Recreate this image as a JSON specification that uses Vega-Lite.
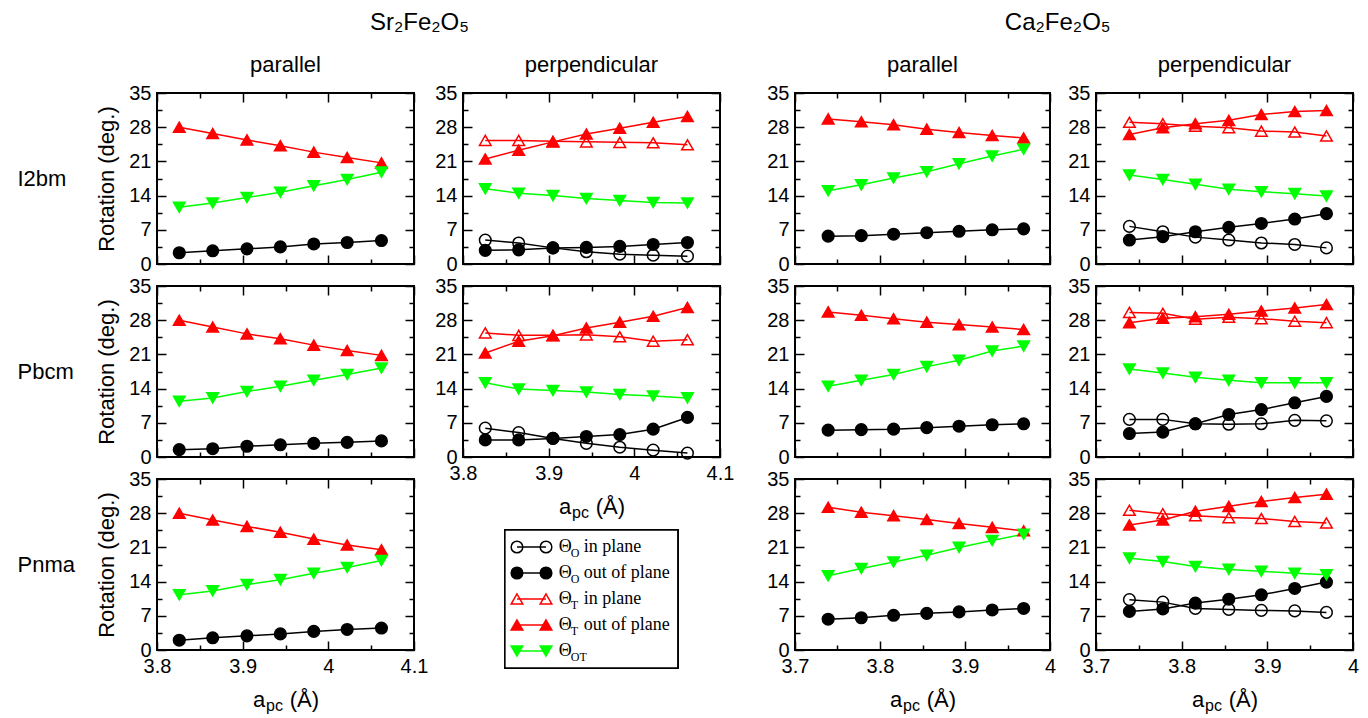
{
"$schema": "https://vega.github.io/schema/vega-lite/v6.json",
"background": "white",
"padding": {"left": 16, "top": 11, "right": 5, "bottom": 5},
"config": {
 "font": "Liberation Sans",
 "view": {"stroke": "black", "strokeWidth": 2},
 "axis": {"domain": false, "grid": false, "tickColor": "black", "tickWidth": 1.5, "tickSize": -9, "labelPadding": 15, "labelFont": "Liberation Sans", "labelFontSize": 20, "labelColor": "black", "titleFont": "Liberation Sans", "titleFontSize": 22, "titleFontWeight": "normal", "titleColor": "black", "labelFlush": false, "labelOverlap": false},
 "title": {"font": "Liberation Sans", "fontWeight": "normal", "color": "black", "fontSize": 22}
},
"datasets": {
"leg": [
 {"ser": "O_in", "sub": "O", "txt": "in plane"},
 {"ser": "O_out", "sub": "O", "txt": "out of plane"},
 {"ser": "T_in", "sub": "T", "txt": "in plane"},
 {"ser": "T_out", "sub": "T", "txt": "out of plane"},
 {"ser": "OT", "sub": "OT", "txt": ""}
],
"d": [
{"cmp":"Sr","dir":"par","str":"I2bm","ser":"T_out","a":3.826,"rot":28.0},
{"cmp":"Sr","dir":"par","str":"I2bm","ser":"T_out","a":3.865,"rot":26.7},
{"cmp":"Sr","dir":"par","str":"I2bm","ser":"T_out","a":3.905,"rot":25.4},
{"cmp":"Sr","dir":"par","str":"I2bm","ser":"T_out","a":3.944,"rot":24.2},
{"cmp":"Sr","dir":"par","str":"I2bm","ser":"T_out","a":3.983,"rot":22.9},
{"cmp":"Sr","dir":"par","str":"I2bm","ser":"T_out","a":4.022,"rot":21.8},
{"cmp":"Sr","dir":"par","str":"I2bm","ser":"T_out","a":4.062,"rot":20.7},
{"cmp":"Sr","dir":"par","str":"I2bm","ser":"OT","a":3.826,"rot":11.6},
{"cmp":"Sr","dir":"par","str":"I2bm","ser":"OT","a":3.865,"rot":12.5},
{"cmp":"Sr","dir":"par","str":"I2bm","ser":"OT","a":3.905,"rot":13.6},
{"cmp":"Sr","dir":"par","str":"I2bm","ser":"OT","a":3.944,"rot":14.7},
{"cmp":"Sr","dir":"par","str":"I2bm","ser":"OT","a":3.983,"rot":16.0},
{"cmp":"Sr","dir":"par","str":"I2bm","ser":"OT","a":4.022,"rot":17.3},
{"cmp":"Sr","dir":"par","str":"I2bm","ser":"OT","a":4.062,"rot":18.8},
{"cmp":"Sr","dir":"par","str":"I2bm","ser":"O_out","a":3.826,"rot":2.3},
{"cmp":"Sr","dir":"par","str":"I2bm","ser":"O_out","a":3.865,"rot":2.7},
{"cmp":"Sr","dir":"par","str":"I2bm","ser":"O_out","a":3.905,"rot":3.1},
{"cmp":"Sr","dir":"par","str":"I2bm","ser":"O_out","a":3.944,"rot":3.5},
{"cmp":"Sr","dir":"par","str":"I2bm","ser":"O_out","a":3.983,"rot":4.1},
{"cmp":"Sr","dir":"par","str":"I2bm","ser":"O_out","a":4.022,"rot":4.4},
{"cmp":"Sr","dir":"par","str":"I2bm","ser":"O_out","a":4.062,"rot":4.8},
{"cmp":"Sr","dir":"par","str":"Pbcm","ser":"T_out","a":3.826,"rot":28.0},
{"cmp":"Sr","dir":"par","str":"Pbcm","ser":"T_out","a":3.865,"rot":26.6},
{"cmp":"Sr","dir":"par","str":"Pbcm","ser":"T_out","a":3.905,"rot":25.2},
{"cmp":"Sr","dir":"par","str":"Pbcm","ser":"T_out","a":3.944,"rot":24.2},
{"cmp":"Sr","dir":"par","str":"Pbcm","ser":"T_out","a":3.983,"rot":22.9},
{"cmp":"Sr","dir":"par","str":"Pbcm","ser":"T_out","a":4.022,"rot":21.8},
{"cmp":"Sr","dir":"par","str":"Pbcm","ser":"T_out","a":4.062,"rot":20.8},
{"cmp":"Sr","dir":"par","str":"Pbcm","ser":"OT","a":3.826,"rot":11.4},
{"cmp":"Sr","dir":"par","str":"Pbcm","ser":"OT","a":3.865,"rot":12.1},
{"cmp":"Sr","dir":"par","str":"Pbcm","ser":"OT","a":3.905,"rot":13.4},
{"cmp":"Sr","dir":"par","str":"Pbcm","ser":"OT","a":3.944,"rot":14.5},
{"cmp":"Sr","dir":"par","str":"Pbcm","ser":"OT","a":3.983,"rot":15.7},
{"cmp":"Sr","dir":"par","str":"Pbcm","ser":"OT","a":4.022,"rot":16.9},
{"cmp":"Sr","dir":"par","str":"Pbcm","ser":"OT","a":4.062,"rot":18.2},
{"cmp":"Sr","dir":"par","str":"Pbcm","ser":"O_out","a":3.826,"rot":1.5},
{"cmp":"Sr","dir":"par","str":"Pbcm","ser":"O_out","a":3.865,"rot":1.7},
{"cmp":"Sr","dir":"par","str":"Pbcm","ser":"O_out","a":3.905,"rot":2.2},
{"cmp":"Sr","dir":"par","str":"Pbcm","ser":"O_out","a":3.944,"rot":2.5},
{"cmp":"Sr","dir":"par","str":"Pbcm","ser":"O_out","a":3.983,"rot":2.8},
{"cmp":"Sr","dir":"par","str":"Pbcm","ser":"O_out","a":4.022,"rot":3.0},
{"cmp":"Sr","dir":"par","str":"Pbcm","ser":"O_out","a":4.062,"rot":3.3},
{"cmp":"Sr","dir":"par","str":"Pnma","ser":"T_out","a":3.826,"rot":28.0},
{"cmp":"Sr","dir":"par","str":"Pnma","ser":"T_out","a":3.865,"rot":26.6},
{"cmp":"Sr","dir":"par","str":"Pnma","ser":"T_out","a":3.905,"rot":25.3},
{"cmp":"Sr","dir":"par","str":"Pnma","ser":"T_out","a":3.944,"rot":24.1},
{"cmp":"Sr","dir":"par","str":"Pnma","ser":"T_out","a":3.983,"rot":22.7},
{"cmp":"Sr","dir":"par","str":"Pnma","ser":"T_out","a":4.022,"rot":21.5},
{"cmp":"Sr","dir":"par","str":"Pnma","ser":"T_out","a":4.062,"rot":20.5},
{"cmp":"Sr","dir":"par","str":"Pnma","ser":"OT","a":3.826,"rot":11.3},
{"cmp":"Sr","dir":"par","str":"Pnma","ser":"OT","a":3.865,"rot":12.1},
{"cmp":"Sr","dir":"par","str":"Pnma","ser":"OT","a":3.905,"rot":13.4},
{"cmp":"Sr","dir":"par","str":"Pnma","ser":"OT","a":3.944,"rot":14.4},
{"cmp":"Sr","dir":"par","str":"Pnma","ser":"OT","a":3.983,"rot":15.7},
{"cmp":"Sr","dir":"par","str":"Pnma","ser":"OT","a":4.022,"rot":16.9},
{"cmp":"Sr","dir":"par","str":"Pnma","ser":"OT","a":4.062,"rot":18.3},
{"cmp":"Sr","dir":"par","str":"Pnma","ser":"O_out","a":3.826,"rot":2.0},
{"cmp":"Sr","dir":"par","str":"Pnma","ser":"O_out","a":3.865,"rot":2.5},
{"cmp":"Sr","dir":"par","str":"Pnma","ser":"O_out","a":3.905,"rot":2.9},
{"cmp":"Sr","dir":"par","str":"Pnma","ser":"O_out","a":3.944,"rot":3.3},
{"cmp":"Sr","dir":"par","str":"Pnma","ser":"O_out","a":3.983,"rot":3.8},
{"cmp":"Sr","dir":"par","str":"Pnma","ser":"O_out","a":4.022,"rot":4.2},
{"cmp":"Sr","dir":"par","str":"Pnma","ser":"O_out","a":4.062,"rot":4.5},
{"cmp":"Sr","dir":"perp","str":"I2bm","ser":"O_in","a":3.826,"rot":4.9},
{"cmp":"Sr","dir":"perp","str":"I2bm","ser":"O_in","a":3.865,"rot":4.3},
{"cmp":"Sr","dir":"perp","str":"I2bm","ser":"O_in","a":3.905,"rot":3.3},
{"cmp":"Sr","dir":"perp","str":"I2bm","ser":"O_in","a":3.944,"rot":2.5},
{"cmp":"Sr","dir":"perp","str":"I2bm","ser":"O_in","a":3.983,"rot":2.0},
{"cmp":"Sr","dir":"perp","str":"I2bm","ser":"O_in","a":4.022,"rot":1.8},
{"cmp":"Sr","dir":"perp","str":"I2bm","ser":"O_in","a":4.062,"rot":1.6},
{"cmp":"Sr","dir":"perp","str":"I2bm","ser":"O_out","a":3.826,"rot":2.8},
{"cmp":"Sr","dir":"perp","str":"I2bm","ser":"O_out","a":3.865,"rot":2.9},
{"cmp":"Sr","dir":"perp","str":"I2bm","ser":"O_out","a":3.905,"rot":3.3},
{"cmp":"Sr","dir":"perp","str":"I2bm","ser":"O_out","a":3.944,"rot":3.4},
{"cmp":"Sr","dir":"perp","str":"I2bm","ser":"O_out","a":3.983,"rot":3.6},
{"cmp":"Sr","dir":"perp","str":"I2bm","ser":"O_out","a":4.022,"rot":4.0},
{"cmp":"Sr","dir":"perp","str":"I2bm","ser":"O_out","a":4.062,"rot":4.4},
{"cmp":"Sr","dir":"perp","str":"I2bm","ser":"T_in","a":3.826,"rot":25.3},
{"cmp":"Sr","dir":"perp","str":"I2bm","ser":"T_in","a":3.865,"rot":25.3},
{"cmp":"Sr","dir":"perp","str":"I2bm","ser":"T_in","a":3.905,"rot":25.1},
{"cmp":"Sr","dir":"perp","str":"I2bm","ser":"T_in","a":3.944,"rot":25.0},
{"cmp":"Sr","dir":"perp","str":"I2bm","ser":"T_in","a":3.983,"rot":24.9},
{"cmp":"Sr","dir":"perp","str":"I2bm","ser":"T_in","a":4.022,"rot":24.8},
{"cmp":"Sr","dir":"perp","str":"I2bm","ser":"T_in","a":4.062,"rot":24.4},
{"cmp":"Sr","dir":"perp","str":"I2bm","ser":"T_out","a":3.826,"rot":21.5},
{"cmp":"Sr","dir":"perp","str":"I2bm","ser":"T_out","a":3.865,"rot":23.3},
{"cmp":"Sr","dir":"perp","str":"I2bm","ser":"T_out","a":3.905,"rot":25.0},
{"cmp":"Sr","dir":"perp","str":"I2bm","ser":"T_out","a":3.944,"rot":26.6},
{"cmp":"Sr","dir":"perp","str":"I2bm","ser":"T_out","a":3.983,"rot":27.8},
{"cmp":"Sr","dir":"perp","str":"I2bm","ser":"T_out","a":4.022,"rot":29.0},
{"cmp":"Sr","dir":"perp","str":"I2bm","ser":"T_out","a":4.062,"rot":30.2},
{"cmp":"Sr","dir":"perp","str":"I2bm","ser":"OT","a":3.826,"rot":15.4},
{"cmp":"Sr","dir":"perp","str":"I2bm","ser":"OT","a":3.865,"rot":14.5},
{"cmp":"Sr","dir":"perp","str":"I2bm","ser":"OT","a":3.905,"rot":14.0},
{"cmp":"Sr","dir":"perp","str":"I2bm","ser":"OT","a":3.944,"rot":13.4},
{"cmp":"Sr","dir":"perp","str":"I2bm","ser":"OT","a":3.983,"rot":13.0},
{"cmp":"Sr","dir":"perp","str":"I2bm","ser":"OT","a":4.022,"rot":12.6},
{"cmp":"Sr","dir":"perp","str":"I2bm","ser":"OT","a":4.062,"rot":12.5},
{"cmp":"Sr","dir":"perp","str":"Pbcm","ser":"O_in","a":3.826,"rot":5.9},
{"cmp":"Sr","dir":"perp","str":"Pbcm","ser":"O_in","a":3.865,"rot":5.0},
{"cmp":"Sr","dir":"perp","str":"Pbcm","ser":"O_in","a":3.905,"rot":3.8},
{"cmp":"Sr","dir":"perp","str":"Pbcm","ser":"O_in","a":3.944,"rot":2.8},
{"cmp":"Sr","dir":"perp","str":"Pbcm","ser":"O_in","a":3.983,"rot":2.0},
{"cmp":"Sr","dir":"perp","str":"Pbcm","ser":"O_in","a":4.022,"rot":1.4},
{"cmp":"Sr","dir":"perp","str":"Pbcm","ser":"O_in","a":4.062,"rot":0.8},
{"cmp":"Sr","dir":"perp","str":"Pbcm","ser":"O_out","a":3.826,"rot":3.5},
{"cmp":"Sr","dir":"perp","str":"Pbcm","ser":"O_out","a":3.865,"rot":3.5},
{"cmp":"Sr","dir":"perp","str":"Pbcm","ser":"O_out","a":3.905,"rot":3.8},
{"cmp":"Sr","dir":"perp","str":"Pbcm","ser":"O_out","a":3.944,"rot":4.2},
{"cmp":"Sr","dir":"perp","str":"Pbcm","ser":"O_out","a":3.983,"rot":4.6},
{"cmp":"Sr","dir":"perp","str":"Pbcm","ser":"O_out","a":4.022,"rot":5.7},
{"cmp":"Sr","dir":"perp","str":"Pbcm","ser":"O_out","a":4.062,"rot":8.1},
{"cmp":"Sr","dir":"perp","str":"Pbcm","ser":"T_in","a":3.826,"rot":25.4},
{"cmp":"Sr","dir":"perp","str":"Pbcm","ser":"T_in","a":3.865,"rot":24.9},
{"cmp":"Sr","dir":"perp","str":"Pbcm","ser":"T_in","a":3.905,"rot":24.9},
{"cmp":"Sr","dir":"perp","str":"Pbcm","ser":"T_in","a":3.944,"rot":25.0},
{"cmp":"Sr","dir":"perp","str":"Pbcm","ser":"T_in","a":3.983,"rot":24.6},
{"cmp":"Sr","dir":"perp","str":"Pbcm","ser":"T_in","a":4.022,"rot":23.7},
{"cmp":"Sr","dir":"perp","str":"Pbcm","ser":"T_in","a":4.062,"rot":24.0},
{"cmp":"Sr","dir":"perp","str":"Pbcm","ser":"T_out","a":3.826,"rot":21.3},
{"cmp":"Sr","dir":"perp","str":"Pbcm","ser":"T_out","a":3.865,"rot":23.7},
{"cmp":"Sr","dir":"perp","str":"Pbcm","ser":"T_out","a":3.905,"rot":24.8},
{"cmp":"Sr","dir":"perp","str":"Pbcm","ser":"T_out","a":3.944,"rot":26.4},
{"cmp":"Sr","dir":"perp","str":"Pbcm","ser":"T_out","a":3.983,"rot":27.6},
{"cmp":"Sr","dir":"perp","str":"Pbcm","ser":"T_out","a":4.022,"rot":28.8},
{"cmp":"Sr","dir":"perp","str":"Pbcm","ser":"T_out","a":4.062,"rot":30.6},
{"cmp":"Sr","dir":"perp","str":"Pbcm","ser":"OT","a":3.826,"rot":15.2},
{"cmp":"Sr","dir":"perp","str":"Pbcm","ser":"OT","a":3.865,"rot":13.9},
{"cmp":"Sr","dir":"perp","str":"Pbcm","ser":"OT","a":3.905,"rot":13.6},
{"cmp":"Sr","dir":"perp","str":"Pbcm","ser":"OT","a":3.944,"rot":13.3},
{"cmp":"Sr","dir":"perp","str":"Pbcm","ser":"OT","a":3.983,"rot":12.8},
{"cmp":"Sr","dir":"perp","str":"Pbcm","ser":"OT","a":4.022,"rot":12.5},
{"cmp":"Sr","dir":"perp","str":"Pbcm","ser":"OT","a":4.062,"rot":12.1},
{"cmp":"Ca","dir":"par","str":"I2bm","ser":"T_out","a":3.739,"rot":29.7},
{"cmp":"Ca","dir":"par","str":"I2bm","ser":"T_out","a":3.778,"rot":29.1},
{"cmp":"Ca","dir":"par","str":"I2bm","ser":"T_out","a":3.816,"rot":28.5},
{"cmp":"Ca","dir":"par","str":"I2bm","ser":"T_out","a":3.855,"rot":27.6},
{"cmp":"Ca","dir":"par","str":"I2bm","ser":"T_out","a":3.893,"rot":26.9},
{"cmp":"Ca","dir":"par","str":"I2bm","ser":"T_out","a":3.932,"rot":26.3},
{"cmp":"Ca","dir":"par","str":"I2bm","ser":"T_out","a":3.969,"rot":25.8},
{"cmp":"Ca","dir":"par","str":"I2bm","ser":"OT","a":3.739,"rot":15.0},
{"cmp":"Ca","dir":"par","str":"I2bm","ser":"OT","a":3.778,"rot":16.2},
{"cmp":"Ca","dir":"par","str":"I2bm","ser":"OT","a":3.816,"rot":17.6},
{"cmp":"Ca","dir":"par","str":"I2bm","ser":"OT","a":3.855,"rot":18.9},
{"cmp":"Ca","dir":"par","str":"I2bm","ser":"OT","a":3.893,"rot":20.5},
{"cmp":"Ca","dir":"par","str":"I2bm","ser":"OT","a":3.932,"rot":22.1},
{"cmp":"Ca","dir":"par","str":"I2bm","ser":"OT","a":3.969,"rot":23.5},
{"cmp":"Ca","dir":"par","str":"I2bm","ser":"O_out","a":3.739,"rot":5.7},
{"cmp":"Ca","dir":"par","str":"I2bm","ser":"O_out","a":3.778,"rot":5.8},
{"cmp":"Ca","dir":"par","str":"I2bm","ser":"O_out","a":3.816,"rot":6.1},
{"cmp":"Ca","dir":"par","str":"I2bm","ser":"O_out","a":3.855,"rot":6.4},
{"cmp":"Ca","dir":"par","str":"I2bm","ser":"O_out","a":3.893,"rot":6.7},
{"cmp":"Ca","dir":"par","str":"I2bm","ser":"O_out","a":3.932,"rot":7.0},
{"cmp":"Ca","dir":"par","str":"I2bm","ser":"O_out","a":3.969,"rot":7.2},
{"cmp":"Ca","dir":"par","str":"Pbcm","ser":"T_out","a":3.739,"rot":29.7},
{"cmp":"Ca","dir":"par","str":"Pbcm","ser":"T_out","a":3.778,"rot":29.0},
{"cmp":"Ca","dir":"par","str":"Pbcm","ser":"T_out","a":3.816,"rot":28.3},
{"cmp":"Ca","dir":"par","str":"Pbcm","ser":"T_out","a":3.855,"rot":27.6},
{"cmp":"Ca","dir":"par","str":"Pbcm","ser":"T_out","a":3.893,"rot":27.1},
{"cmp":"Ca","dir":"par","str":"Pbcm","ser":"T_out","a":3.932,"rot":26.6},
{"cmp":"Ca","dir":"par","str":"Pbcm","ser":"T_out","a":3.969,"rot":26.1},
{"cmp":"Ca","dir":"par","str":"Pbcm","ser":"OT","a":3.739,"rot":14.5},
{"cmp":"Ca","dir":"par","str":"Pbcm","ser":"OT","a":3.778,"rot":15.7},
{"cmp":"Ca","dir":"par","str":"Pbcm","ser":"OT","a":3.816,"rot":16.9},
{"cmp":"Ca","dir":"par","str":"Pbcm","ser":"OT","a":3.855,"rot":18.5},
{"cmp":"Ca","dir":"par","str":"Pbcm","ser":"OT","a":3.893,"rot":19.8},
{"cmp":"Ca","dir":"par","str":"Pbcm","ser":"OT","a":3.932,"rot":21.7},
{"cmp":"Ca","dir":"par","str":"Pbcm","ser":"OT","a":3.969,"rot":22.7},
{"cmp":"Ca","dir":"par","str":"Pbcm","ser":"O_out","a":3.739,"rot":5.5},
{"cmp":"Ca","dir":"par","str":"Pbcm","ser":"O_out","a":3.778,"rot":5.6},
{"cmp":"Ca","dir":"par","str":"Pbcm","ser":"O_out","a":3.816,"rot":5.7},
{"cmp":"Ca","dir":"par","str":"Pbcm","ser":"O_out","a":3.855,"rot":6.0},
{"cmp":"Ca","dir":"par","str":"Pbcm","ser":"O_out","a":3.893,"rot":6.3},
{"cmp":"Ca","dir":"par","str":"Pbcm","ser":"O_out","a":3.932,"rot":6.6},
{"cmp":"Ca","dir":"par","str":"Pbcm","ser":"O_out","a":3.969,"rot":6.8},
{"cmp":"Ca","dir":"par","str":"Pnma","ser":"T_out","a":3.739,"rot":29.2},
{"cmp":"Ca","dir":"par","str":"Pnma","ser":"T_out","a":3.778,"rot":28.2},
{"cmp":"Ca","dir":"par","str":"Pnma","ser":"T_out","a":3.816,"rot":27.5},
{"cmp":"Ca","dir":"par","str":"Pnma","ser":"T_out","a":3.855,"rot":26.7},
{"cmp":"Ca","dir":"par","str":"Pnma","ser":"T_out","a":3.893,"rot":25.9},
{"cmp":"Ca","dir":"par","str":"Pnma","ser":"T_out","a":3.932,"rot":25.1},
{"cmp":"Ca","dir":"par","str":"Pnma","ser":"T_out","a":3.969,"rot":24.4},
{"cmp":"Ca","dir":"par","str":"Pnma","ser":"OT","a":3.739,"rot":15.2},
{"cmp":"Ca","dir":"par","str":"Pnma","ser":"OT","a":3.778,"rot":16.7},
{"cmp":"Ca","dir":"par","str":"Pnma","ser":"OT","a":3.816,"rot":18.0},
{"cmp":"Ca","dir":"par","str":"Pnma","ser":"OT","a":3.855,"rot":19.4},
{"cmp":"Ca","dir":"par","str":"Pnma","ser":"OT","a":3.893,"rot":21.0},
{"cmp":"Ca","dir":"par","str":"Pnma","ser":"OT","a":3.932,"rot":22.4},
{"cmp":"Ca","dir":"par","str":"Pnma","ser":"OT","a":3.969,"rot":23.7},
{"cmp":"Ca","dir":"par","str":"Pnma","ser":"O_out","a":3.739,"rot":6.3},
{"cmp":"Ca","dir":"par","str":"Pnma","ser":"O_out","a":3.778,"rot":6.6},
{"cmp":"Ca","dir":"par","str":"Pnma","ser":"O_out","a":3.816,"rot":7.1},
{"cmp":"Ca","dir":"par","str":"Pnma","ser":"O_out","a":3.855,"rot":7.5},
{"cmp":"Ca","dir":"par","str":"Pnma","ser":"O_out","a":3.893,"rot":7.8},
{"cmp":"Ca","dir":"par","str":"Pnma","ser":"O_out","a":3.932,"rot":8.2},
{"cmp":"Ca","dir":"par","str":"Pnma","ser":"O_out","a":3.969,"rot":8.5},
{"cmp":"Ca","dir":"perp","str":"I2bm","ser":"O_in","a":3.739,"rot":7.7},
{"cmp":"Ca","dir":"perp","str":"I2bm","ser":"O_in","a":3.778,"rot":6.6},
{"cmp":"Ca","dir":"perp","str":"I2bm","ser":"O_in","a":3.816,"rot":5.5},
{"cmp":"Ca","dir":"perp","str":"I2bm","ser":"O_in","a":3.855,"rot":4.9},
{"cmp":"Ca","dir":"perp","str":"I2bm","ser":"O_in","a":3.893,"rot":4.3},
{"cmp":"Ca","dir":"perp","str":"I2bm","ser":"O_in","a":3.932,"rot":4.0},
{"cmp":"Ca","dir":"perp","str":"I2bm","ser":"O_in","a":3.969,"rot":3.3},
{"cmp":"Ca","dir":"perp","str":"I2bm","ser":"O_out","a":3.739,"rot":4.9},
{"cmp":"Ca","dir":"perp","str":"I2bm","ser":"O_out","a":3.778,"rot":5.6},
{"cmp":"Ca","dir":"perp","str":"I2bm","ser":"O_out","a":3.816,"rot":6.6},
{"cmp":"Ca","dir":"perp","str":"I2bm","ser":"O_out","a":3.855,"rot":7.5},
{"cmp":"Ca","dir":"perp","str":"I2bm","ser":"O_out","a":3.893,"rot":8.3},
{"cmp":"Ca","dir":"perp","str":"I2bm","ser":"O_out","a":3.932,"rot":9.2},
{"cmp":"Ca","dir":"perp","str":"I2bm","ser":"O_out","a":3.969,"rot":10.3},
{"cmp":"Ca","dir":"perp","str":"I2bm","ser":"T_in","a":3.739,"rot":29.0},
{"cmp":"Ca","dir":"perp","str":"I2bm","ser":"T_in","a":3.778,"rot":28.7},
{"cmp":"Ca","dir":"perp","str":"I2bm","ser":"T_in","a":3.816,"rot":28.2},
{"cmp":"Ca","dir":"perp","str":"I2bm","ser":"T_in","a":3.855,"rot":27.9},
{"cmp":"Ca","dir":"perp","str":"I2bm","ser":"T_in","a":3.893,"rot":27.2},
{"cmp":"Ca","dir":"perp","str":"I2bm","ser":"T_in","a":3.932,"rot":27.0},
{"cmp":"Ca","dir":"perp","str":"I2bm","ser":"T_in","a":3.969,"rot":26.2},
{"cmp":"Ca","dir":"perp","str":"I2bm","ser":"T_out","a":3.739,"rot":26.5},
{"cmp":"Ca","dir":"perp","str":"I2bm","ser":"T_out","a":3.778,"rot":27.9},
{"cmp":"Ca","dir":"perp","str":"I2bm","ser":"T_out","a":3.816,"rot":28.7},
{"cmp":"Ca","dir":"perp","str":"I2bm","ser":"T_out","a":3.855,"rot":29.4},
{"cmp":"Ca","dir":"perp","str":"I2bm","ser":"T_out","a":3.893,"rot":30.6},
{"cmp":"Ca","dir":"perp","str":"I2bm","ser":"T_out","a":3.932,"rot":31.2},
{"cmp":"Ca","dir":"perp","str":"I2bm","ser":"T_out","a":3.969,"rot":31.4},
{"cmp":"Ca","dir":"perp","str":"I2bm","ser":"OT","a":3.739,"rot":18.2},
{"cmp":"Ca","dir":"perp","str":"I2bm","ser":"OT","a":3.778,"rot":17.3},
{"cmp":"Ca","dir":"perp","str":"I2bm","ser":"OT","a":3.816,"rot":16.3},
{"cmp":"Ca","dir":"perp","str":"I2bm","ser":"OT","a":3.855,"rot":15.3},
{"cmp":"Ca","dir":"perp","str":"I2bm","ser":"OT","a":3.893,"rot":14.8},
{"cmp":"Ca","dir":"perp","str":"I2bm","ser":"OT","a":3.932,"rot":14.4},
{"cmp":"Ca","dir":"perp","str":"I2bm","ser":"OT","a":3.969,"rot":13.9},
{"cmp":"Ca","dir":"perp","str":"Pbcm","ser":"O_in","a":3.739,"rot":7.7},
{"cmp":"Ca","dir":"perp","str":"Pbcm","ser":"O_in","a":3.778,"rot":7.7},
{"cmp":"Ca","dir":"perp","str":"Pbcm","ser":"O_in","a":3.816,"rot":6.8},
{"cmp":"Ca","dir":"perp","str":"Pbcm","ser":"O_in","a":3.855,"rot":6.7},
{"cmp":"Ca","dir":"perp","str":"Pbcm","ser":"O_in","a":3.893,"rot":6.8},
{"cmp":"Ca","dir":"perp","str":"Pbcm","ser":"O_in","a":3.932,"rot":7.5},
{"cmp":"Ca","dir":"perp","str":"Pbcm","ser":"O_in","a":3.969,"rot":7.4},
{"cmp":"Ca","dir":"perp","str":"Pbcm","ser":"O_out","a":3.739,"rot":4.8},
{"cmp":"Ca","dir":"perp","str":"Pbcm","ser":"O_out","a":3.778,"rot":5.1},
{"cmp":"Ca","dir":"perp","str":"Pbcm","ser":"O_out","a":3.816,"rot":6.8},
{"cmp":"Ca","dir":"perp","str":"Pbcm","ser":"O_out","a":3.855,"rot":8.7},
{"cmp":"Ca","dir":"perp","str":"Pbcm","ser":"O_out","a":3.893,"rot":9.7},
{"cmp":"Ca","dir":"perp","str":"Pbcm","ser":"O_out","a":3.932,"rot":11.1},
{"cmp":"Ca","dir":"perp","str":"Pbcm","ser":"O_out","a":3.969,"rot":12.4},
{"cmp":"Ca","dir":"perp","str":"Pbcm","ser":"T_in","a":3.739,"rot":29.6},
{"cmp":"Ca","dir":"perp","str":"Pbcm","ser":"T_in","a":3.778,"rot":29.4},
{"cmp":"Ca","dir":"perp","str":"Pbcm","ser":"T_in","a":3.816,"rot":28.2},
{"cmp":"Ca","dir":"perp","str":"Pbcm","ser":"T_in","a":3.855,"rot":28.6},
{"cmp":"Ca","dir":"perp","str":"Pbcm","ser":"T_in","a":3.893,"rot":28.3},
{"cmp":"Ca","dir":"perp","str":"Pbcm","ser":"T_in","a":3.932,"rot":27.8},
{"cmp":"Ca","dir":"perp","str":"Pbcm","ser":"T_in","a":3.969,"rot":27.5},
{"cmp":"Ca","dir":"perp","str":"Pbcm","ser":"T_out","a":3.739,"rot":27.5},
{"cmp":"Ca","dir":"perp","str":"Pbcm","ser":"T_out","a":3.778,"rot":28.4},
{"cmp":"Ca","dir":"perp","str":"Pbcm","ser":"T_out","a":3.816,"rot":28.7},
{"cmp":"Ca","dir":"perp","str":"Pbcm","ser":"T_out","a":3.855,"rot":29.2},
{"cmp":"Ca","dir":"perp","str":"Pbcm","ser":"T_out","a":3.893,"rot":29.9},
{"cmp":"Ca","dir":"perp","str":"Pbcm","ser":"T_out","a":3.932,"rot":30.5},
{"cmp":"Ca","dir":"perp","str":"Pbcm","ser":"T_out","a":3.969,"rot":31.2},
{"cmp":"Ca","dir":"perp","str":"Pbcm","ser":"OT","a":3.739,"rot":18.0},
{"cmp":"Ca","dir":"perp","str":"Pbcm","ser":"OT","a":3.778,"rot":17.2},
{"cmp":"Ca","dir":"perp","str":"Pbcm","ser":"OT","a":3.816,"rot":16.3},
{"cmp":"Ca","dir":"perp","str":"Pbcm","ser":"OT","a":3.855,"rot":15.7},
{"cmp":"Ca","dir":"perp","str":"Pbcm","ser":"OT","a":3.893,"rot":15.2},
{"cmp":"Ca","dir":"perp","str":"Pbcm","ser":"OT","a":3.932,"rot":15.2},
{"cmp":"Ca","dir":"perp","str":"Pbcm","ser":"OT","a":3.969,"rot":15.2},
{"cmp":"Ca","dir":"perp","str":"Pnma","ser":"O_in","a":3.739,"rot":10.3},
{"cmp":"Ca","dir":"perp","str":"Pnma","ser":"O_in","a":3.778,"rot":9.8},
{"cmp":"Ca","dir":"perp","str":"Pnma","ser":"O_in","a":3.816,"rot":8.5},
{"cmp":"Ca","dir":"perp","str":"Pnma","ser":"O_in","a":3.855,"rot":8.3},
{"cmp":"Ca","dir":"perp","str":"Pnma","ser":"O_in","a":3.893,"rot":8.1},
{"cmp":"Ca","dir":"perp","str":"Pnma","ser":"O_in","a":3.932,"rot":8.0},
{"cmp":"Ca","dir":"perp","str":"Pnma","ser":"O_in","a":3.969,"rot":7.7},
{"cmp":"Ca","dir":"perp","str":"Pnma","ser":"O_out","a":3.739,"rot":7.9},
{"cmp":"Ca","dir":"perp","str":"Pnma","ser":"O_out","a":3.778,"rot":8.4},
{"cmp":"Ca","dir":"perp","str":"Pnma","ser":"O_out","a":3.816,"rot":9.6},
{"cmp":"Ca","dir":"perp","str":"Pnma","ser":"O_out","a":3.855,"rot":10.4},
{"cmp":"Ca","dir":"perp","str":"Pnma","ser":"O_out","a":3.893,"rot":11.3},
{"cmp":"Ca","dir":"perp","str":"Pnma","ser":"O_out","a":3.932,"rot":12.6},
{"cmp":"Ca","dir":"perp","str":"Pnma","ser":"O_out","a":3.969,"rot":13.9},
{"cmp":"Ca","dir":"perp","str":"Pnma","ser":"T_in","a":3.739,"rot":28.6},
{"cmp":"Ca","dir":"perp","str":"Pnma","ser":"T_in","a":3.778,"rot":27.9},
{"cmp":"Ca","dir":"perp","str":"Pnma","ser":"T_in","a":3.816,"rot":27.5},
{"cmp":"Ca","dir":"perp","str":"Pnma","ser":"T_in","a":3.855,"rot":27.1},
{"cmp":"Ca","dir":"perp","str":"Pnma","ser":"T_in","a":3.893,"rot":26.9},
{"cmp":"Ca","dir":"perp","str":"Pnma","ser":"T_in","a":3.932,"rot":26.3},
{"cmp":"Ca","dir":"perp","str":"Pnma","ser":"T_in","a":3.969,"rot":26.0},
{"cmp":"Ca","dir":"perp","str":"Pnma","ser":"T_out","a":3.739,"rot":25.6},
{"cmp":"Ca","dir":"perp","str":"Pnma","ser":"T_out","a":3.778,"rot":26.6},
{"cmp":"Ca","dir":"perp","str":"Pnma","ser":"T_out","a":3.816,"rot":28.4},
{"cmp":"Ca","dir":"perp","str":"Pnma","ser":"T_out","a":3.855,"rot":29.4},
{"cmp":"Ca","dir":"perp","str":"Pnma","ser":"T_out","a":3.893,"rot":30.4},
{"cmp":"Ca","dir":"perp","str":"Pnma","ser":"T_out","a":3.932,"rot":31.2},
{"cmp":"Ca","dir":"perp","str":"Pnma","ser":"T_out","a":3.969,"rot":31.9},
{"cmp":"Ca","dir":"perp","str":"Pnma","ser":"OT","a":3.739,"rot":18.8},
{"cmp":"Ca","dir":"perp","str":"Pnma","ser":"OT","a":3.778,"rot":18.1},
{"cmp":"Ca","dir":"perp","str":"Pnma","ser":"OT","a":3.816,"rot":17.1},
{"cmp":"Ca","dir":"perp","str":"Pnma","ser":"OT","a":3.855,"rot":16.5},
{"cmp":"Ca","dir":"perp","str":"Pnma","ser":"OT","a":3.893,"rot":16.1},
{"cmp":"Ca","dir":"perp","str":"Pnma","ser":"OT","a":3.932,"rot":15.7},
{"cmp":"Ca","dir":"perp","str":"Pnma","ser":"OT","a":3.969,"rot":15.4}
]
},
"spacing": 30,
"hconcat": [
{
"title": {"text": "Sr₂Fe₂O₅", "anchor": "middle", "fontSize": 24, "offset": 18, "dx": 44},
"spacing": 4,
"hconcat": [
{"spacing": 0, "vconcat": [
{"width": 257, "height": 171, "data": {"name": "d"},
 "title": {"text": "parallel", "frame": "group", "anchor": "middle", "offset": 6},
 "transform": [{"filter": "datum.cmp=='Sr' && datum.dir=='par' && datum.str=='I2bm'"}],
 "resolve": {"axis": {"x": "independent", "y": "independent"}},
 "layer": [
  {"mark": {"type": "line", "strokeWidth": 1.5}, "encoding": {
   "x": {"field": "a", "type": "quantitative", "scale": {"domain": [3.8, 4.1], "nice": false, "zero": false}, "axis": {"orient": "bottom", "values": [3.8, 3.9, 4, 4.1], "labels": false, "title": null}},
   "y": {"field": "rot", "type": "quantitative", "scale": {"domain": [0, 35], "nice": false}, "axis": {"orient": "left", "values": [0, 7, 14, 21, 28, 35], "title": "Rotation (deg.)", "titlePadding": 10}},
   "color": {"field": "ser", "type": "nominal", "scale": {"domain": ["O_in","O_out","T_in","T_out","OT"], "range": ["black","black","#ff0000","#ff0000","#00ff00"]}, "legend": null}}},
  {"mark": {"type": "point", "filled": true, "size": 135, "strokeWidth": 1.5, "opacity": 1}, "encoding": {
   "x": {"field": "a", "type": "quantitative", "scale": {"domain": [3.8, 4.1], "nice": false, "zero": false}, "axis": {"orient": "top", "values": [3.8, 3.9, 4, 4.1], "labels": false, "title": null}},
   "y": {"field": "rot", "type": "quantitative", "scale": {"domain": [0, 35], "nice": false}, "axis": {"orient": "right", "values": [0, 7, 14, 21, 28, 35], "labels": false, "title": null}},
   "shape": {"field": "ser", "type": "nominal", "scale": {"domain": ["O_in","O_out","T_in","T_out","OT"], "range": ["circle","circle","triangle-up","triangle-up","triangle-down"]}, "legend": null},
   "fill": {"field": "ser", "type": "nominal", "scale": {"domain": ["O_in","O_out","T_in","T_out","OT"], "range": ["transparent","black","transparent","#ff0000","#00ff00"]}, "legend": null},
   "stroke": {"field": "ser", "type": "nominal", "scale": {"domain": ["O_in","O_out","T_in","T_out","OT"], "range": ["black","black","#ff0000","#ff0000","#00ff00"]}, "legend": null}}},
  {"mark": {"type": "point", "opacity": 0}, "encoding": {
   "x": {"field": "a", "type": "quantitative", "scale": {"domain": [3.8, 4.1], "nice": false, "zero": false}, "axis": {"orient": "bottom", "values": [3.85, 3.95, 4.05], "tickSize": -5, "labels": false, "title": null}},
   "y": {"field": "rot", "type": "quantitative", "scale": {"domain": [0, 35], "nice": false}, "axis": {"orient": "left", "values": [3.5, 10.5, 17.5, 24.5, 31.5], "tickSize": -5, "labels": false, "title": "I2bm", "titleAngle": 0, "titleX": -140, "titleY": 85.5, "titleAlign": "left", "titleBaseline": "middle"}}}},
  {"mark": {"type": "point", "opacity": 0}, "encoding": {
   "x": {"field": "a", "type": "quantitative", "scale": {"domain": [3.8, 4.1], "nice": false, "zero": false}, "axis": {"orient": "top", "values": [3.85, 3.95, 4.05], "tickSize": -5, "labels": false, "title": null}},
   "y": {"field": "rot", "type": "quantitative", "scale": {"domain": [0, 35], "nice": false}, "axis": {"orient": "right", "values": [3.5, 10.5, 17.5, 24.5, 31.5], "tickSize": -5, "labels": false, "title": null}}}}
 ]},
{"width": 257, "height": 171, "data": {"name": "d"},
 "transform": [{"filter": "datum.cmp=='Sr' && datum.dir=='par' && datum.str=='Pbcm'"}],
 "resolve": {"axis": {"x": "independent", "y": "independent"}},
 "layer": [
  {"mark": {"type": "line", "strokeWidth": 1.5}, "encoding": {
   "x": {"field": "a", "type": "quantitative", "scale": {"domain": [3.8, 4.1], "nice": false, "zero": false}, "axis": {"orient": "bottom", "values": [3.8, 3.9, 4, 4.1], "labels": false, "title": null}},
   "y": {"field": "rot", "type": "quantitative", "scale": {"domain": [0, 35], "nice": false}, "axis": {"orient": "left", "values": [0, 7, 14, 21, 28, 35], "title": "Rotation (deg.)", "titlePadding": 10}},
   "color": {"field": "ser", "type": "nominal", "scale": {"domain": ["O_in","O_out","T_in","T_out","OT"], "range": ["black","black","#ff0000","#ff0000","#00ff00"]}, "legend": null}}},
  {"mark": {"type": "point", "filled": true, "size": 135, "strokeWidth": 1.5, "opacity": 1}, "encoding": {
   "x": {"field": "a", "type": "quantitative", "scale": {"domain": [3.8, 4.1], "nice": false, "zero": false}, "axis": {"orient": "top", "values": [3.8, 3.9, 4, 4.1], "labels": false, "title": null}},
   "y": {"field": "rot", "type": "quantitative", "scale": {"domain": [0, 35], "nice": false}, "axis": {"orient": "right", "values": [0, 7, 14, 21, 28, 35], "labels": false, "title": null}},
   "shape": {"field": "ser", "type": "nominal", "scale": {"domain": ["O_in","O_out","T_in","T_out","OT"], "range": ["circle","circle","triangle-up","triangle-up","triangle-down"]}, "legend": null},
   "fill": {"field": "ser", "type": "nominal", "scale": {"domain": ["O_in","O_out","T_in","T_out","OT"], "range": ["transparent","black","transparent","#ff0000","#00ff00"]}, "legend": null},
   "stroke": {"field": "ser", "type": "nominal", "scale": {"domain": ["O_in","O_out","T_in","T_out","OT"], "range": ["black","black","#ff0000","#ff0000","#00ff00"]}, "legend": null}}},
  {"mark": {"type": "point", "opacity": 0}, "encoding": {
   "x": {"field": "a", "type": "quantitative", "scale": {"domain": [3.8, 4.1], "nice": false, "zero": false}, "axis": {"orient": "bottom", "values": [3.85, 3.95, 4.05], "tickSize": -5, "labels": false, "title": null}},
   "y": {"field": "rot", "type": "quantitative", "scale": {"domain": [0, 35], "nice": false}, "axis": {"orient": "left", "values": [3.5, 10.5, 17.5, 24.5, 31.5], "tickSize": -5, "labels": false, "title": "Pbcm", "titleAngle": 0, "titleX": -140, "titleY": 85.5, "titleAlign": "left", "titleBaseline": "middle"}}}},
  {"mark": {"type": "point", "opacity": 0}, "encoding": {
   "x": {"field": "a", "type": "quantitative", "scale": {"domain": [3.8, 4.1], "nice": false, "zero": false}, "axis": {"orient": "top", "values": [3.85, 3.95, 4.05], "tickSize": -5, "labels": false, "title": null}},
   "y": {"field": "rot", "type": "quantitative", "scale": {"domain": [0, 35], "nice": false}, "axis": {"orient": "right", "values": [3.5, 10.5, 17.5, 24.5, 31.5], "tickSize": -5, "labels": false, "title": null}}}}
 ]},
{"width": 257, "height": 171, "data": {"name": "d"},
 "transform": [{"filter": "datum.cmp=='Sr' && datum.dir=='par' && datum.str=='Pnma'"}],
 "resolve": {"axis": {"x": "independent", "y": "independent"}},
 "layer": [
  {"mark": {"type": "line", "strokeWidth": 1.5}, "encoding": {
   "x": {"field": "a", "type": "quantitative", "scale": {"domain": [3.8, 4.1], "nice": false, "zero": false}, "axis": {"orient": "bottom", "values": [3.8, 3.9, 4, 4.1], "format": "~g", "title": "a\u00a0\u00a0\u00a0\u00a0(Å)", "titleBaseline": "alphabetic", "titleY": 56}},
   "y": {"field": "rot", "type": "quantitative", "scale": {"domain": [0, 35], "nice": false}, "axis": {"orient": "left", "values": [0, 7, 14, 21, 28, 35], "title": "Rotation (deg.)", "titlePadding": 10}},
   "color": {"field": "ser", "type": "nominal", "scale": {"domain": ["O_in","O_out","T_in","T_out","OT"], "range": ["black","black","#ff0000","#ff0000","#00ff00"]}, "legend": null}}},
  {"mark": {"type": "point", "filled": true, "size": 135, "strokeWidth": 1.5, "opacity": 1}, "encoding": {
   "x": {"field": "a", "type": "quantitative", "scale": {"domain": [3.8, 4.1], "nice": false, "zero": false}, "axis": {"orient": "top", "values": [3.8, 3.9, 4, 4.1], "labels": false, "title": null}},
   "y": {"field": "rot", "type": "quantitative", "scale": {"domain": [0, 35], "nice": false}, "axis": {"orient": "right", "values": [0, 7, 14, 21, 28, 35], "labels": false, "title": null}},
   "shape": {"field": "ser", "type": "nominal", "scale": {"domain": ["O_in","O_out","T_in","T_out","OT"], "range": ["circle","circle","triangle-up","triangle-up","triangle-down"]}, "legend": null},
   "fill": {"field": "ser", "type": "nominal", "scale": {"domain": ["O_in","O_out","T_in","T_out","OT"], "range": ["transparent","black","transparent","#ff0000","#00ff00"]}, "legend": null},
   "stroke": {"field": "ser", "type": "nominal", "scale": {"domain": ["O_in","O_out","T_in","T_out","OT"], "range": ["black","black","#ff0000","#ff0000","#00ff00"]}, "legend": null}}},
  {"mark": {"type": "point", "opacity": 0}, "encoding": {
   "x": {"field": "a", "type": "quantitative", "scale": {"domain": [3.8, 4.1], "nice": false, "zero": false}, "axis": {"orient": "bottom", "values": [3.85, 3.95, 4.05], "tickSize": -5, "labels": false, "title": "pc", "titleFontSize": 16, "titleX": 117, "titleY": 60, "titleAlign": "center", "titleBaseline": "alphabetic"}},
   "y": {"field": "rot", "type": "quantitative", "scale": {"domain": [0, 35], "nice": false}, "axis": {"orient": "left", "values": [3.5, 10.5, 17.5, 24.5, 31.5], "tickSize": -5, "labels": false, "title": "Pnma", "titleAngle": 0, "titleX": -140, "titleY": 85.5, "titleAlign": "left", "titleBaseline": "middle"}}}},
  {"mark": {"type": "point", "opacity": 0}, "encoding": {
   "x": {"field": "a", "type": "quantitative", "scale": {"domain": [3.8, 4.1], "nice": false, "zero": false}, "axis": {"orient": "top", "values": [3.85, 3.95, 4.05], "tickSize": -5, "labels": false, "title": null}},
   "y": {"field": "rot", "type": "quantitative", "scale": {"domain": [0, 35], "nice": false}, "axis": {"orient": "right", "values": [3.5, 10.5, 17.5, 24.5, 31.5], "tickSize": -5, "labels": false, "title": null}}}}
 ]}
]},
{"spacing": 0, "vconcat": [
{"width": 257, "height": 171, "data": {"name": "d"},
 "title": {"text": "perpendicular", "frame": "group", "anchor": "middle", "offset": 6},
 "transform": [{"filter": "datum.cmp=='Sr' && datum.dir=='perp' && datum.str=='I2bm'"}],
 "resolve": {"axis": {"x": "independent", "y": "independent"}},
 "layer": [
  {"mark": {"type": "line", "strokeWidth": 1.5}, "encoding": {
   "x": {"field": "a", "type": "quantitative", "scale": {"domain": [3.8, 4.1], "nice": false, "zero": false}, "axis": {"orient": "bottom", "values": [3.8, 3.9, 4, 4.1], "labels": false, "title": null}},
   "y": {"field": "rot", "type": "quantitative", "scale": {"domain": [0, 35], "nice": false}, "axis": {"orient": "left", "values": [0, 7, 14, 21, 28, 35], "title": null}},
   "color": {"field": "ser", "type": "nominal", "scale": {"domain": ["O_in","O_out","T_in","T_out","OT"], "range": ["black","black","#ff0000","#ff0000","#00ff00"]}, "legend": null}}},
  {"mark": {"type": "point", "filled": true, "size": 135, "strokeWidth": 1.5, "opacity": 1}, "encoding": {
   "x": {"field": "a", "type": "quantitative", "scale": {"domain": [3.8, 4.1], "nice": false, "zero": false}, "axis": {"orient": "top", "values": [3.8, 3.9, 4, 4.1], "labels": false, "title": null}},
   "y": {"field": "rot", "type": "quantitative", "scale": {"domain": [0, 35], "nice": false}, "axis": {"orient": "right", "values": [0, 7, 14, 21, 28, 35], "labels": false, "title": null}},
   "shape": {"field": "ser", "type": "nominal", "scale": {"domain": ["O_in","O_out","T_in","T_out","OT"], "range": ["circle","circle","triangle-up","triangle-up","triangle-down"]}, "legend": null},
   "fill": {"field": "ser", "type": "nominal", "scale": {"domain": ["O_in","O_out","T_in","T_out","OT"], "range": ["transparent","black","transparent","#ff0000","#00ff00"]}, "legend": null},
   "stroke": {"field": "ser", "type": "nominal", "scale": {"domain": ["O_in","O_out","T_in","T_out","OT"], "range": ["black","black","#ff0000","#ff0000","#00ff00"]}, "legend": null}}},
  {"mark": {"type": "point", "opacity": 0}, "encoding": {
   "x": {"field": "a", "type": "quantitative", "scale": {"domain": [3.8, 4.1], "nice": false, "zero": false}, "axis": {"orient": "bottom", "values": [3.85, 3.95, 4.05], "tickSize": -5, "labels": false, "title": null}},
   "y": {"field": "rot", "type": "quantitative", "scale": {"domain": [0, 35], "nice": false}, "axis": {"orient": "left", "values": [3.5, 10.5, 17.5, 24.5, 31.5], "tickSize": -5, "labels": false, "title": null}}}},
  {"mark": {"type": "point", "opacity": 0}, "encoding": {
   "x": {"field": "a", "type": "quantitative", "scale": {"domain": [3.8, 4.1], "nice": false, "zero": false}, "axis": {"orient": "top", "values": [3.85, 3.95, 4.05], "tickSize": -5, "labels": false, "title": null}},
   "y": {"field": "rot", "type": "quantitative", "scale": {"domain": [0, 35], "nice": false}, "axis": {"orient": "right", "values": [3.5, 10.5, 17.5, 24.5, 31.5], "tickSize": -5, "labels": false, "title": null}}}}
 ]},
{"width": 257, "height": 171, "data": {"name": "d"},
 "transform": [{"filter": "datum.cmp=='Sr' && datum.dir=='perp' && datum.str=='Pbcm'"}],
 "resolve": {"axis": {"x": "independent", "y": "independent"}},
 "layer": [
  {"mark": {"type": "line", "strokeWidth": 1.5}, "encoding": {
   "x": {"field": "a", "type": "quantitative", "scale": {"domain": [3.8, 4.1], "nice": false, "zero": false}, "axis": {"orient": "bottom", "values": [3.8, 3.9, 4, 4.1], "format": "~g", "title": "a\u00a0\u00a0\u00a0\u00a0(Å)", "titleBaseline": "alphabetic", "titleY": 56}},
   "y": {"field": "rot", "type": "quantitative", "scale": {"domain": [0, 35], "nice": false}, "axis": {"orient": "left", "values": [0, 7, 14, 21, 28, 35], "title": null}},
   "color": {"field": "ser", "type": "nominal", "scale": {"domain": ["O_in","O_out","T_in","T_out","OT"], "range": ["black","black","#ff0000","#ff0000","#00ff00"]}, "legend": null}}},
  {"mark": {"type": "point", "filled": true, "size": 135, "strokeWidth": 1.5, "opacity": 1}, "encoding": {
   "x": {"field": "a", "type": "quantitative", "scale": {"domain": [3.8, 4.1], "nice": false, "zero": false}, "axis": {"orient": "top", "values": [3.8, 3.9, 4, 4.1], "labels": false, "title": null}},
   "y": {"field": "rot", "type": "quantitative", "scale": {"domain": [0, 35], "nice": false}, "axis": {"orient": "right", "values": [0, 7, 14, 21, 28, 35], "labels": false, "title": null}},
   "shape": {"field": "ser", "type": "nominal", "scale": {"domain": ["O_in","O_out","T_in","T_out","OT"], "range": ["circle","circle","triangle-up","triangle-up","triangle-down"]}, "legend": null},
   "fill": {"field": "ser", "type": "nominal", "scale": {"domain": ["O_in","O_out","T_in","T_out","OT"], "range": ["transparent","black","transparent","#ff0000","#00ff00"]}, "legend": null},
   "stroke": {"field": "ser", "type": "nominal", "scale": {"domain": ["O_in","O_out","T_in","T_out","OT"], "range": ["black","black","#ff0000","#ff0000","#00ff00"]}, "legend": null}}},
  {"mark": {"type": "point", "opacity": 0}, "encoding": {
   "x": {"field": "a", "type": "quantitative", "scale": {"domain": [3.8, 4.1], "nice": false, "zero": false}, "axis": {"orient": "bottom", "values": [3.85, 3.95, 4.05], "tickSize": -5, "labels": false, "title": "pc", "titleFontSize": 16, "titleX": 117, "titleY": 60, "titleAlign": "center", "titleBaseline": "alphabetic"}},
   "y": {"field": "rot", "type": "quantitative", "scale": {"domain": [0, 35], "nice": false}, "axis": {"orient": "left", "values": [3.5, 10.5, 17.5, 24.5, 31.5], "tickSize": -5, "labels": false, "title": null}}}},
  {"mark": {"type": "point", "opacity": 0}, "encoding": {
   "x": {"field": "a", "type": "quantitative", "scale": {"domain": [3.8, 4.1], "nice": false, "zero": false}, "axis": {"orient": "top", "values": [3.85, 3.95, 4.05], "tickSize": -5, "labels": false, "title": null}},
   "y": {"field": "rot", "type": "quantitative", "scale": {"domain": [0, 35], "nice": false}, "axis": {"orient": "right", "values": [3.5, 10.5, 17.5, 24.5, 31.5], "tickSize": -5, "labels": false, "title": null}}}}
 ]},
{"width": 257, "height": 138, "view": {"stroke": null}, "data": {"name": "leg"},
 "layer": [
  {"mark": {"type": "rect", "fill": "white", "stroke": "black", "strokeWidth": 1.5}, "encoding": {
   "x": {"datum": 0.163, "type": "quantitative", "scale": {"domain": [0, 1], "nice": false, "zero": false}, "axis": {"orient": "top", "ticks": false, "labels": false, "domain": false, "grid": false, "title": null, "minExtent": 9, "maxExtent": 9}},
   "x2": {"datum": 0.836}}},
  {"mark": {"type": "rule", "strokeWidth": 1.5}, "encoding": {
   "x": {"datum": 0.21, "type": "quantitative", "scale": {"domain": [0, 1], "nice": false, "zero": false}},
   "x2": {"datum": 0.323},
   "y": {"field": "ser", "type": "nominal", "scale": {"type": "point", "domain": ["O_in","O_out","T_in","T_out","OT"], "padding": 0.654}, "axis": null},
   "color": {"field": "ser", "type": "nominal", "scale": {"domain": ["O_in","O_out","T_in","T_out","OT"], "range": ["black","black","#ff0000","#ff0000","#00ff00"]}, "legend": null}}},
  {"mark": {"type": "point", "filled": true, "size": 135, "strokeWidth": 1.5, "opacity": 1}, "encoding": {
   "x": {"datum": 0.21, "type": "quantitative", "scale": {"domain": [0, 1], "nice": false, "zero": false}},
   "y": {"field": "ser", "type": "nominal", "scale": {"type": "point", "domain": ["O_in","O_out","T_in","T_out","OT"], "padding": 0.654}, "axis": null},
   "shape": {"field": "ser", "type": "nominal", "scale": {"domain": ["O_in","O_out","T_in","T_out","OT"], "range": ["circle","circle","triangle-up","triangle-up","triangle-down"]}, "legend": null},
   "fill": {"field": "ser", "type": "nominal", "scale": {"domain": ["O_in","O_out","T_in","T_out","OT"], "range": ["transparent","black","transparent","#ff0000","#00ff00"]}, "legend": null},
   "stroke": {"field": "ser", "type": "nominal", "scale": {"domain": ["O_in","O_out","T_in","T_out","OT"], "range": ["black","black","#ff0000","#ff0000","#00ff00"]}, "legend": null}}},
  {"mark": {"type": "point", "filled": true, "size": 135, "strokeWidth": 1.5, "opacity": 1}, "encoding": {
   "x": {"datum": 0.323, "type": "quantitative", "scale": {"domain": [0, 1], "nice": false, "zero": false}},
   "y": {"field": "ser", "type": "nominal", "scale": {"type": "point", "domain": ["O_in","O_out","T_in","T_out","OT"], "padding": 0.654}, "axis": null},
   "shape": {"field": "ser", "type": "nominal", "scale": {"domain": ["O_in","O_out","T_in","T_out","OT"], "range": ["circle","circle","triangle-up","triangle-up","triangle-down"]}, "legend": null},
   "fill": {"field": "ser", "type": "nominal", "scale": {"domain": ["O_in","O_out","T_in","T_out","OT"], "range": ["transparent","black","transparent","#ff0000","#00ff00"]}, "legend": null},
   "stroke": {"field": "ser", "type": "nominal", "scale": {"domain": ["O_in","O_out","T_in","T_out","OT"], "range": ["black","black","#ff0000","#ff0000","#00ff00"]}, "legend": null}}},
  {"mark": {"type": "text", "text": "Θ", "font": "Liberation Serif", "fontSize": 18, "align": "left", "baseline": "middle", "color": "black"}, "encoding": {
   "x": {"datum": 0.373, "type": "quantitative", "scale": {"domain": [0, 1], "nice": false, "zero": false}},
   "y": {"field": "ser", "type": "nominal", "scale": {"type": "point", "domain": ["O_in","O_out","T_in","T_out","OT"], "padding": 0.654}, "axis": null}}},
  {"mark": {"type": "text", "font": "Liberation Serif", "fontSize": 12, "align": "left", "baseline": "middle", "dx": 12, "dy": 6, "color": "black"}, "encoding": {
   "x": {"datum": 0.373, "type": "quantitative", "scale": {"domain": [0, 1], "nice": false, "zero": false}},
   "y": {"field": "ser", "type": "nominal", "scale": {"type": "point", "domain": ["O_in","O_out","T_in","T_out","OT"], "padding": 0.654}, "axis": null},
   "text": {"field": "sub", "type": "nominal"}}},
  {"mark": {"type": "text", "font": "Liberation Serif", "fontSize": 18, "align": "left", "baseline": "middle", "dx": 25, "color": "black"}, "encoding": {
   "x": {"datum": 0.373, "type": "quantitative", "scale": {"domain": [0, 1], "nice": false, "zero": false}},
   "y": {"field": "ser", "type": "nominal", "scale": {"type": "point", "domain": ["O_in","O_out","T_in","T_out","OT"], "padding": 0.654}, "axis": null},
   "text": {"field": "txt", "type": "nominal"}}}
 ]}
]}
]
},
{
"title": {"text": "Ca₂Fe₂O₅", "anchor": "middle", "fontSize": 24, "offset": 18, "dx": -5},
"spacing": 9,
"hconcat": [
{"spacing": 0, "vconcat": [
{"width": 255, "height": 171, "data": {"name": "d"},
 "title": {"text": "parallel", "frame": "group", "anchor": "middle", "offset": 6},
 "transform": [{"filter": "datum.cmp=='Ca' && datum.dir=='par' && datum.str=='I2bm'"}],
 "resolve": {"axis": {"x": "independent", "y": "independent"}},
 "layer": [
  {"mark": {"type": "line", "strokeWidth": 1.5}, "encoding": {
   "x": {"field": "a", "type": "quantitative", "scale": {"domain": [3.7, 4.0], "nice": false, "zero": false}, "axis": {"orient": "bottom", "values": [3.7, 3.8, 3.9, 4], "labels": false, "title": null}},
   "y": {"field": "rot", "type": "quantitative", "scale": {"domain": [0, 35], "nice": false}, "axis": {"orient": "left", "values": [0, 7, 14, 21, 28, 35], "title": null}},
   "color": {"field": "ser", "type": "nominal", "scale": {"domain": ["O_in","O_out","T_in","T_out","OT"], "range": ["black","black","#ff0000","#ff0000","#00ff00"]}, "legend": null}}},
  {"mark": {"type": "point", "filled": true, "size": 135, "strokeWidth": 1.5, "opacity": 1}, "encoding": {
   "x": {"field": "a", "type": "quantitative", "scale": {"domain": [3.7, 4.0], "nice": false, "zero": false}, "axis": {"orient": "top", "values": [3.7, 3.8, 3.9, 4], "labels": false, "title": null}},
   "y": {"field": "rot", "type": "quantitative", "scale": {"domain": [0, 35], "nice": false}, "axis": {"orient": "right", "values": [0, 7, 14, 21, 28, 35], "labels": false, "title": null}},
   "shape": {"field": "ser", "type": "nominal", "scale": {"domain": ["O_in","O_out","T_in","T_out","OT"], "range": ["circle","circle","triangle-up","triangle-up","triangle-down"]}, "legend": null},
   "fill": {"field": "ser", "type": "nominal", "scale": {"domain": ["O_in","O_out","T_in","T_out","OT"], "range": ["transparent","black","transparent","#ff0000","#00ff00"]}, "legend": null},
   "stroke": {"field": "ser", "type": "nominal", "scale": {"domain": ["O_in","O_out","T_in","T_out","OT"], "range": ["black","black","#ff0000","#ff0000","#00ff00"]}, "legend": null}}},
  {"mark": {"type": "point", "opacity": 0}, "encoding": {
   "x": {"field": "a", "type": "quantitative", "scale": {"domain": [3.7, 4.0], "nice": false, "zero": false}, "axis": {"orient": "bottom", "values": [3.75, 3.85, 3.95], "tickSize": -5, "labels": false, "title": null}},
   "y": {"field": "rot", "type": "quantitative", "scale": {"domain": [0, 35], "nice": false}, "axis": {"orient": "left", "values": [3.5, 10.5, 17.5, 24.5, 31.5], "tickSize": -5, "labels": false, "title": null}}}},
  {"mark": {"type": "point", "opacity": 0}, "encoding": {
   "x": {"field": "a", "type": "quantitative", "scale": {"domain": [3.7, 4.0], "nice": false, "zero": false}, "axis": {"orient": "top", "values": [3.75, 3.85, 3.95], "tickSize": -5, "labels": false, "title": null}},
   "y": {"field": "rot", "type": "quantitative", "scale": {"domain": [0, 35], "nice": false}, "axis": {"orient": "right", "values": [3.5, 10.5, 17.5, 24.5, 31.5], "tickSize": -5, "labels": false, "title": null}}}}
 ]},
{"width": 255, "height": 171, "data": {"name": "d"},
 "transform": [{"filter": "datum.cmp=='Ca' && datum.dir=='par' && datum.str=='Pbcm'"}],
 "resolve": {"axis": {"x": "independent", "y": "independent"}},
 "layer": [
  {"mark": {"type": "line", "strokeWidth": 1.5}, "encoding": {
   "x": {"field": "a", "type": "quantitative", "scale": {"domain": [3.7, 4.0], "nice": false, "zero": false}, "axis": {"orient": "bottom", "values": [3.7, 3.8, 3.9, 4], "labels": false, "title": null}},
   "y": {"field": "rot", "type": "quantitative", "scale": {"domain": [0, 35], "nice": false}, "axis": {"orient": "left", "values": [0, 7, 14, 21, 28, 35], "title": null}},
   "color": {"field": "ser", "type": "nominal", "scale": {"domain": ["O_in","O_out","T_in","T_out","OT"], "range": ["black","black","#ff0000","#ff0000","#00ff00"]}, "legend": null}}},
  {"mark": {"type": "point", "filled": true, "size": 135, "strokeWidth": 1.5, "opacity": 1}, "encoding": {
   "x": {"field": "a", "type": "quantitative", "scale": {"domain": [3.7, 4.0], "nice": false, "zero": false}, "axis": {"orient": "top", "values": [3.7, 3.8, 3.9, 4], "labels": false, "title": null}},
   "y": {"field": "rot", "type": "quantitative", "scale": {"domain": [0, 35], "nice": false}, "axis": {"orient": "right", "values": [0, 7, 14, 21, 28, 35], "labels": false, "title": null}},
   "shape": {"field": "ser", "type": "nominal", "scale": {"domain": ["O_in","O_out","T_in","T_out","OT"], "range": ["circle","circle","triangle-up","triangle-up","triangle-down"]}, "legend": null},
   "fill": {"field": "ser", "type": "nominal", "scale": {"domain": ["O_in","O_out","T_in","T_out","OT"], "range": ["transparent","black","transparent","#ff0000","#00ff00"]}, "legend": null},
   "stroke": {"field": "ser", "type": "nominal", "scale": {"domain": ["O_in","O_out","T_in","T_out","OT"], "range": ["black","black","#ff0000","#ff0000","#00ff00"]}, "legend": null}}},
  {"mark": {"type": "point", "opacity": 0}, "encoding": {
   "x": {"field": "a", "type": "quantitative", "scale": {"domain": [3.7, 4.0], "nice": false, "zero": false}, "axis": {"orient": "bottom", "values": [3.75, 3.85, 3.95], "tickSize": -5, "labels": false, "title": null}},
   "y": {"field": "rot", "type": "quantitative", "scale": {"domain": [0, 35], "nice": false}, "axis": {"orient": "left", "values": [3.5, 10.5, 17.5, 24.5, 31.5], "tickSize": -5, "labels": false, "title": null}}}},
  {"mark": {"type": "point", "opacity": 0}, "encoding": {
   "x": {"field": "a", "type": "quantitative", "scale": {"domain": [3.7, 4.0], "nice": false, "zero": false}, "axis": {"orient": "top", "values": [3.75, 3.85, 3.95], "tickSize": -5, "labels": false, "title": null}},
   "y": {"field": "rot", "type": "quantitative", "scale": {"domain": [0, 35], "nice": false}, "axis": {"orient": "right", "values": [3.5, 10.5, 17.5, 24.5, 31.5], "tickSize": -5, "labels": false, "title": null}}}}
 ]},
{"width": 255, "height": 171, "data": {"name": "d"},
 "transform": [{"filter": "datum.cmp=='Ca' && datum.dir=='par' && datum.str=='Pnma'"}],
 "resolve": {"axis": {"x": "independent", "y": "independent"}},
 "layer": [
  {"mark": {"type": "line", "strokeWidth": 1.5}, "encoding": {
   "x": {"field": "a", "type": "quantitative", "scale": {"domain": [3.7, 4.0], "nice": false, "zero": false}, "axis": {"orient": "bottom", "values": [3.7, 3.8, 3.9, 4], "format": "~g", "title": "a\u00a0\u00a0\u00a0\u00a0(Å)", "titleBaseline": "alphabetic", "titleY": 56}},
   "y": {"field": "rot", "type": "quantitative", "scale": {"domain": [0, 35], "nice": false}, "axis": {"orient": "left", "values": [0, 7, 14, 21, 28, 35], "title": null}},
   "color": {"field": "ser", "type": "nominal", "scale": {"domain": ["O_in","O_out","T_in","T_out","OT"], "range": ["black","black","#ff0000","#ff0000","#00ff00"]}, "legend": null}}},
  {"mark": {"type": "point", "filled": true, "size": 135, "strokeWidth": 1.5, "opacity": 1}, "encoding": {
   "x": {"field": "a", "type": "quantitative", "scale": {"domain": [3.7, 4.0], "nice": false, "zero": false}, "axis": {"orient": "top", "values": [3.7, 3.8, 3.9, 4], "labels": false, "title": null}},
   "y": {"field": "rot", "type": "quantitative", "scale": {"domain": [0, 35], "nice": false}, "axis": {"orient": "right", "values": [0, 7, 14, 21, 28, 35], "labels": false, "title": null}},
   "shape": {"field": "ser", "type": "nominal", "scale": {"domain": ["O_in","O_out","T_in","T_out","OT"], "range": ["circle","circle","triangle-up","triangle-up","triangle-down"]}, "legend": null},
   "fill": {"field": "ser", "type": "nominal", "scale": {"domain": ["O_in","O_out","T_in","T_out","OT"], "range": ["transparent","black","transparent","#ff0000","#00ff00"]}, "legend": null},
   "stroke": {"field": "ser", "type": "nominal", "scale": {"domain": ["O_in","O_out","T_in","T_out","OT"], "range": ["black","black","#ff0000","#ff0000","#00ff00"]}, "legend": null}}},
  {"mark": {"type": "point", "opacity": 0}, "encoding": {
   "x": {"field": "a", "type": "quantitative", "scale": {"domain": [3.7, 4.0], "nice": false, "zero": false}, "axis": {"orient": "bottom", "values": [3.75, 3.85, 3.95], "tickSize": -5, "labels": false, "title": "pc", "titleFontSize": 16, "titleX": 116, "titleY": 60, "titleAlign": "center", "titleBaseline": "alphabetic"}},
   "y": {"field": "rot", "type": "quantitative", "scale": {"domain": [0, 35], "nice": false}, "axis": {"orient": "left", "values": [3.5, 10.5, 17.5, 24.5, 31.5], "tickSize": -5, "labels": false, "title": null}}}},
  {"mark": {"type": "point", "opacity": 0}, "encoding": {
   "x": {"field": "a", "type": "quantitative", "scale": {"domain": [3.7, 4.0], "nice": false, "zero": false}, "axis": {"orient": "top", "values": [3.75, 3.85, 3.95], "tickSize": -5, "labels": false, "title": null}},
   "y": {"field": "rot", "type": "quantitative", "scale": {"domain": [0, 35], "nice": false}, "axis": {"orient": "right", "values": [3.5, 10.5, 17.5, 24.5, 31.5], "tickSize": -5, "labels": false, "title": null}}}}
 ]}
]},
{"spacing": 0, "vconcat": [
{"width": 257, "height": 171, "data": {"name": "d"},
 "title": {"text": "perpendicular", "frame": "group", "anchor": "middle", "offset": 6},
 "transform": [{"filter": "datum.cmp=='Ca' && datum.dir=='perp' && datum.str=='I2bm'"}],
 "resolve": {"axis": {"x": "independent", "y": "independent"}},
 "layer": [
  {"mark": {"type": "line", "strokeWidth": 1.5}, "encoding": {
   "x": {"field": "a", "type": "quantitative", "scale": {"domain": [3.7, 4.0], "nice": false, "zero": false}, "axis": {"orient": "bottom", "values": [3.7, 3.8, 3.9, 4], "labels": false, "title": null}},
   "y": {"field": "rot", "type": "quantitative", "scale": {"domain": [0, 35], "nice": false}, "axis": {"orient": "left", "values": [0, 7, 14, 21, 28, 35], "title": null}},
   "color": {"field": "ser", "type": "nominal", "scale": {"domain": ["O_in","O_out","T_in","T_out","OT"], "range": ["black","black","#ff0000","#ff0000","#00ff00"]}, "legend": null}}},
  {"mark": {"type": "point", "filled": true, "size": 135, "strokeWidth": 1.5, "opacity": 1}, "encoding": {
   "x": {"field": "a", "type": "quantitative", "scale": {"domain": [3.7, 4.0], "nice": false, "zero": false}, "axis": {"orient": "top", "values": [3.7, 3.8, 3.9, 4], "labels": false, "title": null}},
   "y": {"field": "rot", "type": "quantitative", "scale": {"domain": [0, 35], "nice": false}, "axis": {"orient": "right", "values": [0, 7, 14, 21, 28, 35], "labels": false, "title": null}},
   "shape": {"field": "ser", "type": "nominal", "scale": {"domain": ["O_in","O_out","T_in","T_out","OT"], "range": ["circle","circle","triangle-up","triangle-up","triangle-down"]}, "legend": null},
   "fill": {"field": "ser", "type": "nominal", "scale": {"domain": ["O_in","O_out","T_in","T_out","OT"], "range": ["transparent","black","transparent","#ff0000","#00ff00"]}, "legend": null},
   "stroke": {"field": "ser", "type": "nominal", "scale": {"domain": ["O_in","O_out","T_in","T_out","OT"], "range": ["black","black","#ff0000","#ff0000","#00ff00"]}, "legend": null}}},
  {"mark": {"type": "point", "opacity": 0}, "encoding": {
   "x": {"field": "a", "type": "quantitative", "scale": {"domain": [3.7, 4.0], "nice": false, "zero": false}, "axis": {"orient": "bottom", "values": [3.75, 3.85, 3.95], "tickSize": -5, "labels": false, "title": null}},
   "y": {"field": "rot", "type": "quantitative", "scale": {"domain": [0, 35], "nice": false}, "axis": {"orient": "left", "values": [3.5, 10.5, 17.5, 24.5, 31.5], "tickSize": -5, "labels": false, "title": null}}}},
  {"mark": {"type": "point", "opacity": 0}, "encoding": {
   "x": {"field": "a", "type": "quantitative", "scale": {"domain": [3.7, 4.0], "nice": false, "zero": false}, "axis": {"orient": "top", "values": [3.75, 3.85, 3.95], "tickSize": -5, "labels": false, "title": null}},
   "y": {"field": "rot", "type": "quantitative", "scale": {"domain": [0, 35], "nice": false}, "axis": {"orient": "right", "values": [3.5, 10.5, 17.5, 24.5, 31.5], "tickSize": -5, "labels": false, "title": null}}}}
 ]},
{"width": 257, "height": 171, "data": {"name": "d"},
 "transform": [{"filter": "datum.cmp=='Ca' && datum.dir=='perp' && datum.str=='Pbcm'"}],
 "resolve": {"axis": {"x": "independent", "y": "independent"}},
 "layer": [
  {"mark": {"type": "line", "strokeWidth": 1.5}, "encoding": {
   "x": {"field": "a", "type": "quantitative", "scale": {"domain": [3.7, 4.0], "nice": false, "zero": false}, "axis": {"orient": "bottom", "values": [3.7, 3.8, 3.9, 4], "labels": false, "title": null}},
   "y": {"field": "rot", "type": "quantitative", "scale": {"domain": [0, 35], "nice": false}, "axis": {"orient": "left", "values": [0, 7, 14, 21, 28, 35], "title": null}},
   "color": {"field": "ser", "type": "nominal", "scale": {"domain": ["O_in","O_out","T_in","T_out","OT"], "range": ["black","black","#ff0000","#ff0000","#00ff00"]}, "legend": null}}},
  {"mark": {"type": "point", "filled": true, "size": 135, "strokeWidth": 1.5, "opacity": 1}, "encoding": {
   "x": {"field": "a", "type": "quantitative", "scale": {"domain": [3.7, 4.0], "nice": false, "zero": false}, "axis": {"orient": "top", "values": [3.7, 3.8, 3.9, 4], "labels": false, "title": null}},
   "y": {"field": "rot", "type": "quantitative", "scale": {"domain": [0, 35], "nice": false}, "axis": {"orient": "right", "values": [0, 7, 14, 21, 28, 35], "labels": false, "title": null}},
   "shape": {"field": "ser", "type": "nominal", "scale": {"domain": ["O_in","O_out","T_in","T_out","OT"], "range": ["circle","circle","triangle-up","triangle-up","triangle-down"]}, "legend": null},
   "fill": {"field": "ser", "type": "nominal", "scale": {"domain": ["O_in","O_out","T_in","T_out","OT"], "range": ["transparent","black","transparent","#ff0000","#00ff00"]}, "legend": null},
   "stroke": {"field": "ser", "type": "nominal", "scale": {"domain": ["O_in","O_out","T_in","T_out","OT"], "range": ["black","black","#ff0000","#ff0000","#00ff00"]}, "legend": null}}},
  {"mark": {"type": "point", "opacity": 0}, "encoding": {
   "x": {"field": "a", "type": "quantitative", "scale": {"domain": [3.7, 4.0], "nice": false, "zero": false}, "axis": {"orient": "bottom", "values": [3.75, 3.85, 3.95], "tickSize": -5, "labels": false, "title": null}},
   "y": {"field": "rot", "type": "quantitative", "scale": {"domain": [0, 35], "nice": false}, "axis": {"orient": "left", "values": [3.5, 10.5, 17.5, 24.5, 31.5], "tickSize": -5, "labels": false, "title": null}}}},
  {"mark": {"type": "point", "opacity": 0}, "encoding": {
   "x": {"field": "a", "type": "quantitative", "scale": {"domain": [3.7, 4.0], "nice": false, "zero": false}, "axis": {"orient": "top", "values": [3.75, 3.85, 3.95], "tickSize": -5, "labels": false, "title": null}},
   "y": {"field": "rot", "type": "quantitative", "scale": {"domain": [0, 35], "nice": false}, "axis": {"orient": "right", "values": [3.5, 10.5, 17.5, 24.5, 31.5], "tickSize": -5, "labels": false, "title": null}}}}
 ]},
{"width": 257, "height": 171, "data": {"name": "d"},
 "transform": [{"filter": "datum.cmp=='Ca' && datum.dir=='perp' && datum.str=='Pnma'"}],
 "resolve": {"axis": {"x": "independent", "y": "independent"}},
 "layer": [
  {"mark": {"type": "line", "strokeWidth": 1.5}, "encoding": {
   "x": {"field": "a", "type": "quantitative", "scale": {"domain": [3.7, 4.0], "nice": false, "zero": false}, "axis": {"orient": "bottom", "values": [3.7, 3.8, 3.9, 4], "format": "~g", "title": "a\u00a0\u00a0\u00a0\u00a0(Å)", "titleBaseline": "alphabetic", "titleY": 56}},
   "y": {"field": "rot", "type": "quantitative", "scale": {"domain": [0, 35], "nice": false}, "axis": {"orient": "left", "values": [0, 7, 14, 21, 28, 35], "title": null}},
   "color": {"field": "ser", "type": "nominal", "scale": {"domain": ["O_in","O_out","T_in","T_out","OT"], "range": ["black","black","#ff0000","#ff0000","#00ff00"]}, "legend": null}}},
  {"mark": {"type": "point", "filled": true, "size": 135, "strokeWidth": 1.5, "opacity": 1}, "encoding": {
   "x": {"field": "a", "type": "quantitative", "scale": {"domain": [3.7, 4.0], "nice": false, "zero": false}, "axis": {"orient": "top", "values": [3.7, 3.8, 3.9, 4], "labels": false, "title": null}},
   "y": {"field": "rot", "type": "quantitative", "scale": {"domain": [0, 35], "nice": false}, "axis": {"orient": "right", "values": [0, 7, 14, 21, 28, 35], "labels": false, "title": null}},
   "shape": {"field": "ser", "type": "nominal", "scale": {"domain": ["O_in","O_out","T_in","T_out","OT"], "range": ["circle","circle","triangle-up","triangle-up","triangle-down"]}, "legend": null},
   "fill": {"field": "ser", "type": "nominal", "scale": {"domain": ["O_in","O_out","T_in","T_out","OT"], "range": ["transparent","black","transparent","#ff0000","#00ff00"]}, "legend": null},
   "stroke": {"field": "ser", "type": "nominal", "scale": {"domain": ["O_in","O_out","T_in","T_out","OT"], "range": ["black","black","#ff0000","#ff0000","#00ff00"]}, "legend": null}}},
  {"mark": {"type": "point", "opacity": 0}, "encoding": {
   "x": {"field": "a", "type": "quantitative", "scale": {"domain": [3.7, 4.0], "nice": false, "zero": false}, "axis": {"orient": "bottom", "values": [3.75, 3.85, 3.95], "tickSize": -5, "labels": false, "title": "pc", "titleFontSize": 16, "titleX": 117, "titleY": 60, "titleAlign": "center", "titleBaseline": "alphabetic"}},
   "y": {"field": "rot", "type": "quantitative", "scale": {"domain": [0, 35], "nice": false}, "axis": {"orient": "left", "values": [3.5, 10.5, 17.5, 24.5, 31.5], "tickSize": -5, "labels": false, "title": null}}}},
  {"mark": {"type": "point", "opacity": 0}, "encoding": {
   "x": {"field": "a", "type": "quantitative", "scale": {"domain": [3.7, 4.0], "nice": false, "zero": false}, "axis": {"orient": "top", "values": [3.75, 3.85, 3.95], "tickSize": -5, "labels": false, "title": null}},
   "y": {"field": "rot", "type": "quantitative", "scale": {"domain": [0, 35], "nice": false}, "axis": {"orient": "right", "values": [3.5, 10.5, 17.5, 24.5, 31.5], "tickSize": -5, "labels": false, "title": null}}}}
 ]}
]}
]
}
]
}
